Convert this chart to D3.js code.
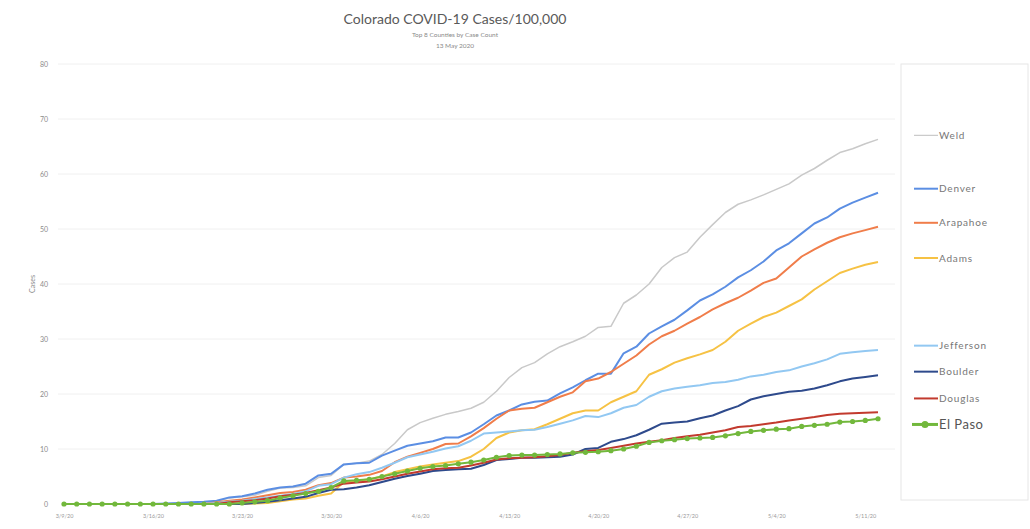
<!DOCTYPE html>
<html>
<head>
<meta charset="utf-8">
<script src="https://cdn.jsdelivr.net/npm/d3@7"></script>
<style>
  html, body { margin: 0; padding: 0; background: #fff; }
  svg { display: block; font-family: Lato, "Open Sans", sans-serif; }
</style>
</head>
<body>
<div id="chart"></div>
<script>
// daily values from 3/9/20 to 5/12/20 (cases per 100,000)
const startDate = "2020-03-09";
const weld = [0,0,0,0,0,0,0,0,0,0,0,0,0.5,1.1,1.3,1.6,2.3,2.9,3.0,3.3,4.8,5.2,7.2,7.4,7.8,9.0,11.0,13.5,14.8,15.6,16.3,16.8,17.4,18.5,20.5,23.0,24.8,25.7,27.3,28.6,29.5,30.5,32.1,32.3,36.5,38.0,40.0,43.0,44.8,45.8,48.5,50.8,53.0,54.5,55.3,56.2,57.2,58.2,59.8,61.0,62.5,63.9,64.6,65.5,66.3];
const denver = [0,0,0,0,0,0,0,0,0.1,0.2,0.3,0.4,0.6,1.2,1.4,1.9,2.6,3.0,3.2,3.7,5.2,5.5,7.2,7.4,7.5,8.8,9.7,10.6,11.0,11.4,12.1,12.1,13.0,14.5,16.1,17.0,18.1,18.6,18.8,20.1,21.2,22.5,23.7,23.7,27.4,28.6,31.0,32.3,33.5,35.2,37.0,38.1,39.5,41.2,42.5,44.1,46.1,47.4,49.2,51.0,52.1,53.7,54.8,55.7,56.6];
const arapahoe = [0,0,0,0,0,0,0,0,0,0,0,0,0.3,0.6,0.8,1.2,1.6,2.0,2.2,2.6,3.4,3.8,4.8,5.0,5.3,6.0,7.6,8.6,9.3,10.0,10.9,11.0,12.3,13.8,15.5,17.0,17.3,17.5,18.5,19.5,20.3,22.3,22.8,24.0,25.5,27.0,29.0,30.5,31.5,32.8,34.0,35.4,36.5,37.5,38.8,40.2,41.0,43.0,45.0,46.3,47.5,48.5,49.2,49.8,50.4];
const adams = [0,0,0,0,0,0,0,0,0,0,0,0,0,0,0,0.1,0.2,0.5,0.8,1.0,1.5,1.9,4.0,4.2,4.5,5.0,5.8,6.3,6.8,7.2,7.5,7.8,8.6,10.0,12.0,13.0,13.4,13.6,14.5,15.5,16.5,17.0,17.0,18.5,19.5,20.5,23.5,24.5,25.7,26.5,27.2,28.0,29.5,31.5,32.8,34.0,34.8,36.0,37.2,39.0,40.5,42.0,42.8,43.5,44.0];
const jefferson = [0,0,0,0,0,0,0,0,0,0,0,0,0.2,0.4,0.6,0.9,1.2,1.5,1.8,2.3,3.3,3.6,4.8,5.4,5.8,6.6,7.5,8.5,9.0,9.5,10.1,10.5,11.5,12.8,13.0,13.2,13.4,13.5,14.0,14.6,15.2,16.0,15.8,16.5,17.5,18.0,19.5,20.5,21.0,21.3,21.6,22.0,22.2,22.6,23.2,23.5,24.0,24.3,25.0,25.6,26.3,27.3,27.6,27.8,28.0];
const boulder = [0,0,0,0,0,0,0,0,0,0,0,0,0,0,0,0.2,0.4,0.7,1.0,1.3,2.0,2.6,2.7,3.0,3.4,4.0,4.6,5.1,5.5,6.0,6.2,6.3,6.4,7.1,8.0,8.2,8.4,8.4,8.5,8.6,9.0,10.0,10.2,11.3,11.8,12.5,13.5,14.6,14.8,15.0,15.6,16.1,17.0,17.8,19.0,19.6,20.0,20.4,20.6,21.0,21.6,22.3,22.8,23.1,23.4];
const douglas = [0,0,0,0,0,0,0,0,0,0,0,0,0,0.3,0.5,0.7,1.0,1.4,1.7,2.0,2.5,3.0,3.7,3.9,4.1,4.5,5.0,5.5,5.9,6.3,6.5,6.6,7.0,7.5,8.1,8.3,8.4,8.5,8.7,8.9,9.3,9.6,9.8,10.2,10.6,11.0,11.3,11.6,12.0,12.3,12.6,13.0,13.4,14.0,14.2,14.5,14.8,15.2,15.5,15.8,16.2,16.4,16.5,16.6,16.7];
const elPaso = [0,0,0,0,0,0,0,0,0,0,0,0,0,0,0.2,0.4,0.6,1.1,1.5,1.9,2.3,3.0,4.2,4.3,4.5,5.0,5.5,6.0,6.5,6.8,7.0,7.3,7.6,8.0,8.5,8.8,8.9,8.9,9.0,9.1,9.3,9.4,9.5,9.7,10.0,10.5,11.2,11.5,11.7,11.9,12.0,12.1,12.4,12.8,13.2,13.4,13.6,13.7,14.1,14.3,14.5,14.9,15.0,15.2,15.5];

const seriesNames = ["Weld", "Denver", "Arapahoe", "Adams", "Jefferson", "Boulder", "Douglas", "El Paso"];
const seriesValues = [weld, denver, arapahoe, adams, jefferson, boulder, douglas, elPaso];
const seriesColors = ["#c9c9c9", "#5b8ee3", "#f07d4a", "#f6c244", "#92c8f2", "#2e4a8c", "#c23a2e", "#72b83c"];
const yTicks = [0, 10, 20, 30, 40, 50, 60, 70, 80];

const W = 1030, H = 529;
const margin = { left: 64, right: 152, top: 64, bottom: 25 };

const parse = d3.timeParse("%Y-%m-%d");
const d0 = parse(startDate);
const dates = weld.map((_, i) => d3.timeDay.offset(d0, i));
const weekTicks = d3.timeDay.range(d0, dates[dates.length - 1], 7);

const svg = d3.select("#chart").append("svg")
    .attr("width", W)
    .attr("height", H);

const x = d3.scaleTime()
    .domain([d0, dates[dates.length - 1]])
    .range([margin.left, W - margin.right]);
const y = d3.scaleLinear()
    .domain([0, 80])
    .range([H - margin.bottom, margin.top]);

// title
svg.append("text").attr("x", 455).attr("y", 24).attr("text-anchor", "middle")
    .attr("font-size", 14).attr("fill", "#595959").text("Colorado COVID-19 Cases/100,000");
svg.append("text").attr("x", 455).attr("y", 37).attr("text-anchor", "middle")
    .attr("font-size", 6.5).attr("fill", "#8a8a8a").text("Top 8 Counties by Case Count");
svg.append("text").attr("x", 455).attr("y", 48).attr("text-anchor", "middle")
    .attr("font-size", 6.5).attr("fill", "#8a8a8a").text("13 May 2020");

// grid
svg.append("g").selectAll("line")
    .data(yTicks.filter(t => t > 0))
    .join("line")
    .attr("x1", 58).attr("x2", 895)
    .attr("y1", d => y(d)).attr("y2", d => y(d))
    .attr("stroke", "#f0f0f0").attr("stroke-width", 1);

// y axis
const yAxis = svg.append("g")
    .attr("transform", `translate(${margin.left - 16},0)`)
    .call(d3.axisLeft(y).tickValues(yTicks).tickSize(0).tickPadding(0));
yAxis.select(".domain").remove();
yAxis.selectAll("text").attr("font-size", 7).attr("fill", "#8c8c8c")
    .attr("font-family", "Lato, sans-serif");

svg.append("text")
    .attr("transform", `translate(35,${y(40)}) rotate(-90)`)
    .attr("text-anchor", "middle")
    .attr("font-size", 7).attr("fill", "#8c8c8c")
    .text("Cases");

// x axis
const fmt = d3.timeFormat("%-m/%-d/%y");
const xAxis = svg.append("g")
    .attr("transform", `translate(0,${H - margin.bottom + 10})`)
    .call(d3.axisBottom(x).tickValues(weekTicks).tickFormat(fmt).tickSize(0).tickPadding(0));
xAxis.select(".domain").remove();
xAxis.selectAll("text").attr("font-size", 5.5).attr("fill", "#9a9a9a")
    .attr("font-family", "Lato, sans-serif");

// lines
const line = d3.line()
    .x((d, i) => x(dates[i]))
    .y(d => y(d));

const series = seriesNames.map((name, i) => ({ name, values: seriesValues[i], color: seriesColors[i] }));

svg.append("g").selectAll("path")
    .data(series)
    .join("path")
    .attr("fill", "none")
    .attr("stroke", d => d.color)
    .attr("stroke-width", d => d.name === "Weld" ? 1.5 : 2)
    .attr("stroke-linejoin", "round")
    .attr("d", d => line(d.values));

// El Paso markers
svg.append("g").selectAll("circle")
    .data(elPaso)
    .join("circle")
    .attr("cx", (d, i) => x(dates[i]))
    .attr("cy", d => y(d))
    .attr("r", 2.6)
    .attr("fill", "#72b83c");

// legend box
svg.append("rect")
    .attr("x", 901).attr("y", 64).attr("width", 127).attr("height", 436)
    .attr("fill", "none").attr("stroke", "#e6e6e6");

// legend labels positioned at last value, pushed apart when crowded
const leg = series.map(s => ({ ...s, ly: y(s.values[s.values.length - 1]) - 4 }));
leg.sort((a, b) => a.ly - b.ly);
for (let k = 1; k < leg.length; k++) {
    const gap = leg[k].ly - leg[k - 1].ly;
    if (gap < 26) {
        const push = (26 - gap) / 2;
        leg[k - 1].ly -= push;
        leg[k].ly += push;
    }
}

const lg = svg.append("g").selectAll("g")
    .data(leg)
    .join("g")
    .attr("transform", d => `translate(0,${d.ly})`);

lg.append("line")
    .attr("x1", d => d.name === "El Paso" ? 912 : 914)
    .attr("x2", 938)
    .attr("stroke", d => d.color)
    .attr("stroke-width", d => d.name === "El Paso" ? 3 : (d.name === "Weld" ? 1.2 : 2));

lg.filter(d => d.name === "El Paso").append("circle")
    .attr("cx", 925).attr("r", 3.5).attr("fill", "#72b83c");

lg.append("text")
    .attr("x", 939)
    .attr("dy", "0.35em")
    .attr("font-size", d => d.name === "El Paso" ? 13 : 10)
    .attr("letter-spacing", d => d.name === "El Paso" ? 0.5 : 0.8)
    .attr("fill", d => d.name === "El Paso" ? "#555" : "#777")
    .text(d => d.name);
</script>
</body>
</html>
